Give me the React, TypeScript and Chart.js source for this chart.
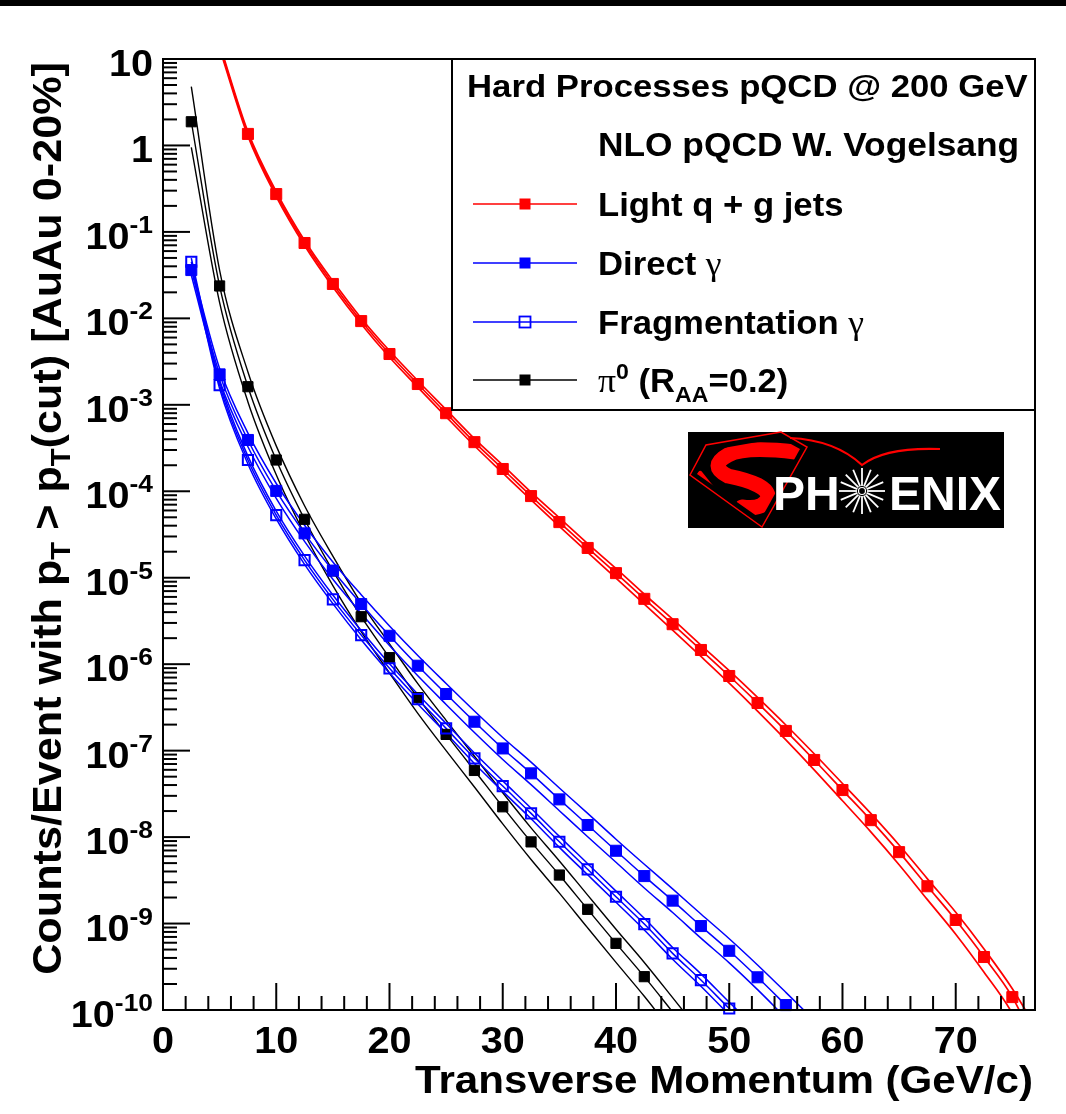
import React, { useEffect, useRef } from 'react';
import { Chart, registerables } from 'chart.js';

Chart.register(...registerables);

// ---- NLO pQCD yields, counts/event above pT cut (AuAu 0-20%) ----

// Light q + g jets
const jetsPt = [5, 7.5, 10, 12.5, 15, 17.5, 20, 22.5, 25, 27.5, 30, 32.5, 35, 37.5, 40, 42.5, 45, 47.5, 50, 52.5, 55, 57.5, 60, 62.5, 65, 67.5, 70, 72.5, 75, 77.5];
const jetsCentral = [14, 1.36, 0.274, 0.0744, 0.025, 0.0093, 0.00387, 0.00174, 8.0e-4, 3.7e-4, 1.81e-4, 8.8e-5, 4.4e-5, 2.21e-5, 1.13e-5, 5.7e-6, 2.9e-6, 1.46e-6, 7.3e-7, 3.56e-7, 1.69e-7, 7.8e-8, 3.5e-8, 1.57e-8, 6.7e-9, 2.7e-9, 1.1e-9, 4.1e-10, 1.41e-10, 3.0e-11];
const jetsUpper = [14.8, 1.44, 0.293, 0.0796, 0.027, 0.01004, 0.00422, 0.0019, 8.8e-4, 4.07e-4, 2.01e-4, 9.77e-5, 4.93e-5, 2.48e-5, 1.28e-5, 6.44e-6, 3.31e-6, 1.66e-6, 8.4e-7, 4.13e-7, 1.98e-7, 9.2e-8, 4.17e-8, 1.88e-8, 8.1e-9, 3.29e-9, 1.35e-9, 5.08e-10, 1.76e-10, 5.0e-11];
const jetsLower = [13.2, 1.28, 0.256, 0.0695, 0.0231, 0.00861, 0.00355, 0.0016, 7.27e-4, 3.36e-4, 1.63e-4, 7.93e-5, 3.93e-5, 1.97e-5, 9.9e-6, 4.96e-6, 2.48e-6, 1.23e-6, 6.03e-7, 2.87e-7, 1.33e-7, 6.0e-8, 2.63e-8, 1.15e-8, 4.79e-9, 1.89e-9, 7.53e-10, 2.73e-10, 9.1e-11, 1.9e-11];

// Direct photons
const directPt = [2.5, 5, 7.5, 10, 12.5, 15, 17.5, 20, 22.5, 25, 27.5, 30, 32.5, 35, 37.5, 40, 42.5, 45, 47.5, 50, 52.5, 55, 57.5];
const directCentral = [0.0362, 2.25e-3, 3.92e-4, 1.01e-4, 3.26e-5, 1.21e-5, 4.96e-6, 2.13e-6, 9.6e-7, 4.52e-7, 2.16e-7, 1.06e-7, 5.46e-8, 2.73e-8, 1.38e-8, 6.95e-9, 3.54e-9, 1.84e-9, 9.35e-10, 4.84e-10, 2.39e-10, 1.14e-10, 5.4e-11];
const directUpper = [0.0416, 2.63e-3, 4.7e-4, 1.23e-4, 4.04e-5, 1.52e-5, 6.35e-6, 2.77e-6, 1.26e-6, 5.97e-7, 2.87e-7, 1.42e-7, 7.37e-8, 3.69e-8, 1.88e-8, 9.45e-9, 4.85e-9, 2.52e-9, 1.29e-9, 6.68e-10, 3.32e-10, 1.6e-10, 7.6e-11];
const directLower = [0.0315, 1.92e-3, 3.27e-4, 8.3e-5, 2.63e-5, 9.6e-6, 3.88e-6, 1.64e-6, 7.33e-7, 3.42e-7, 1.62e-7, 7.9e-8, 4.04e-8, 2.02e-8, 1.01e-8, 5.11e-9, 2.58e-9, 1.34e-9, 6.78e-10, 3.51e-10, 1.72e-10, 8.1e-11, 3.85e-11];

// Fragmentation photons
const fragPt = [2.5, 5, 7.5, 10, 12.5, 15, 17.5, 20, 22.5, 25, 27.5, 30, 32.5, 35, 37.5, 40, 42.5, 45, 47.5, 50, 52.5];
const fragCentral = [0.0452, 1.69e-3, 2.3e-4, 5.31e-5, 1.6e-5, 5.62e-6, 2.17e-6, 8.95e-7, 3.95e-7, 1.81e-7, 8.15e-8, 3.89e-8, 1.88e-8, 8.83e-9, 4.24e-9, 2.04e-9, 9.86e-10, 4.52e-10, 2.22e-10, 1.04e-10, 5.0e-11];
const fragUpper = [0.0497, 1.86e-3, 2.55e-4, 5.9e-5, 1.79e-5, 6.3e-6, 2.45e-6, 1.01e-6, 4.5e-7, 2.06e-7, 9.37e-8, 4.47e-8, 2.16e-8, 1.02e-8, 4.92e-9, 2.37e-9, 1.15e-9, 5.29e-10, 2.62e-10, 1.23e-10, 5.9e-11];
const fragLower = [0.0411, 1.54e-3, 2.07e-4, 4.78e-5, 1.43e-5, 5.02e-6, 1.92e-6, 7.92e-7, 3.46e-7, 1.59e-7, 7.09e-8, 3.38e-8, 1.63e-8, 7.61e-9, 3.66e-9, 1.76e-9, 8.43e-10, 3.86e-10, 1.88e-10, 8.8e-11, 4.24e-11];

// pi0 with R_AA = 0.2
const pi0Pt = [2.5, 5, 7.5, 10, 12.5, 15, 17.5, 20, 22.5, 25, 27.5, 30, 32.5, 35, 37.5, 40, 42.5, 45, 47.5];
const pi0Central = [1.88, 0.0237, 1.62e-3, 2.3e-4, 4.74e-5, 1.2e-5, 3.54e-6, 1.19e-6, 4.1e-7, 1.54e-7, 5.9e-8, 2.24e-8, 8.8e-9, 3.64e-9, 1.46e-9, 5.9e-10, 2.43e-10, 9.5e-11, 3.7e-11];
const pi0Upper = [4.8, 0.036, 2.4e-3, 3.35e-4, 6.8e-5, 1.78e-5, 5.1e-6, 1.72e-6, 5.95e-7, 2.24e-7, 8.6e-8, 3.26e-8, 1.28e-8, 5.3e-9, 2.13e-9, 8.6e-10, 3.55e-10, 1.39e-10, 5.4e-11];
const pi0Lower = [0.95, 0.0152, 1.08e-3, 1.55e-4, 3.2e-5, 8.1e-6, 2.38e-6, 7.9e-7, 2.7e-7, 1.0e-7, 3.8e-8, 1.42e-8, 5.5e-9, 2.25e-9, 8.9e-10, 3.55e-10, 1.44e-10, 5.5e-11, 2.1e-11];

// ---- axes ----
const X_MIN = 0;
const X_MAX = 77;
const Y_MIN = 1e-10;
const Y_MAX = 10;
const xTickLabels = [0, 10, 20, 30, 40, 50, 60, 70];
const yDecadeExponents = [1, 0, -1, -2, -3, -4, -5, -6, -7, -8, -9, -10];

const legendTitle = 'Hard Processes pQCD @ 200 GeV';
const legendSubtitle = 'NLO pQCD W. Vogelsang';
const xTitle = 'Transverse Momentum (GeV/c)';

const SANS = '"Liberation Sans", Arial, Helvetica, sans-serif';
const SERIF = '"Liberation Serif", "DejaVu Serif", serif';

type Run = { t: string; size: number; dy?: number; bold?: boolean; serif?: boolean };

const runFont = (r: Run) => `${r.bold === false ? '' : 'bold '}${r.size}px ${r.serif ? SERIF : SANS}`;

function richWidth(ctx: CanvasRenderingContext2D, runs: Run[], sx: number) {
  let w = 0;
  for (const r of runs) {
    ctx.font = runFont(r);
    w += ctx.measureText(r.t).width * sx;
  }
  return w;
}

// draws a line of mixed-size text (super/subscripts) with a slight horizontal stretch
function drawRich(
  ctx: CanvasRenderingContext2D,
  runs: Run[],
  x: number,
  y: number,
  align: 'left' | 'right' | 'center',
  sx = 1.07
) {
  const w = richWidth(ctx, runs, sx);
  let cx = align === 'right' ? x - w : align === 'center' ? x - w / 2 : x;
  ctx.textAlign = 'left';
  ctx.textBaseline = 'alphabetic';
  for (const r of runs) {
    ctx.font = runFont(r);
    ctx.save();
    ctx.translate(cx, y + (r.dy || 0));
    ctx.scale(sx, 1);
    ctx.fillText(r.t, 0, 0);
    ctx.restore();
    cx += ctx.measureText(r.t).width * sx;
  }
}

const RED = '#ff0000';
const BLUE = '#0000ff';
const BLACK = '#000000';

type Series = {
  pt: number[];
  central: number[];
  upper: number[];
  lower: number[];
  color: string;
  open: boolean;
  radius: number;
  lineWidth: number;
};

const series: Series[] = [
  { pt: jetsPt, central: jetsCentral, upper: jetsUpper, lower: jetsLower, color: RED, open: false, radius: 7.8, lineWidth: 1.7 },
  { pt: directPt, central: directCentral, upper: directUpper, lower: directLower, color: BLUE, open: false, radius: 7.8, lineWidth: 1.5 },
  { pt: fragPt, central: fragCentral, upper: fragUpper, lower: fragLower, color: BLUE, open: true, radius: 7.2, lineWidth: 1.5 },
  { pt: pi0Pt, central: pi0Central, upper: pi0Upper, lower: pi0Lower, color: BLACK, open: false, radius: 7.2, lineWidth: 1.4 },
];

const toPoints = (xs: number[], ys: number[]) => xs.map((x, i) => ({ x, y: ys[i] }));

function buildDatasets() {
  const out: any[] = [];
  for (const s of series) {
    for (const vals of [s.lower, s.central, s.upper]) {
      out.push({
        data: toPoints(s.pt, vals),
        borderColor: s.color,
        borderWidth: s.lineWidth,
        pointRadius: 0,
        fill: false,
        cubicInterpolationMode: 'monotone',
        capBezierPoints: false,
        order: 2,
      });
    }
    out.push({
      data: toPoints(s.pt, s.central),
      showLine: false,
      pointStyle: 'rect',
      pointRadius: (c: any) => {
        const v = c.raw ? c.raw.y : 0;
        return v >= Y_MIN && v <= Y_MAX ? s.radius : 0;
      },
      pointBackgroundColor: s.open ? 'rgba(0,0,0,0)' : s.color,
      pointBorderColor: s.color,
      pointBorderWidth: s.open ? 2 : 1,
      clip: false,
      order: 1,
    });
  }
  return out;
}

function drawLogo(ctx: CanvasRenderingContext2D) {
  ctx.save();
  ctx.fillStyle = '#000';
  ctx.fillRect(688, 432, 316, 96);

  // shield
  const inner: [number, number][] = [[697, 474], [712, 450], [780, 438], [800, 449], [761, 519]];
  const outer: [number, number][] = [[690, 475], [706, 445], [781, 432], [807, 447], [762, 527]];
  ctx.strokeStyle = RED;
  ctx.lineWidth = 1.5;
  ctx.beginPath();
  outer.forEach(([x, y], i) => (i ? ctx.lineTo(x, y) : ctx.moveTo(x, y)));
  ctx.closePath();
  ctx.stroke();

  ctx.beginPath();
  inner.forEach(([x, y], i) => (i ? ctx.lineTo(x, y) : ctx.moveTo(x, y)));
  ctx.closePath();
  ctx.save();
  ctx.clip();
  ctx.strokeStyle = RED;
  ctx.lineWidth = 15;
  ctx.lineCap = 'round';
  ctx.beginPath();
  ctx.moveTo(795, 452);
  ctx.quadraticCurveTo(745, 446, 728, 455);
  ctx.quadraticCurveTo(708, 466, 728, 476);
  ctx.quadraticCurveTo(768, 484, 768, 497);
  ctx.quadraticCurveTo(765, 510, 742, 507);
  ctx.stroke();
  ctx.lineWidth = 6;
  ctx.beginPath();
  ctx.moveTo(700, 474);
  ctx.lineTo(724, 504);
  ctx.stroke();
  ctx.restore();

  // swoosh
  ctx.strokeStyle = RED;
  ctx.lineWidth = 2.2;
  ctx.beginPath();
  ctx.moveTo(790, 438);
  ctx.quadraticCurveTo(835, 440, 862, 465);
  ctx.quadraticCurveTo(885, 447, 940, 449);
  ctx.stroke();

  // lettering
  ctx.fillStyle = '#fff';
  ctx.font = `bold 48px ${SANS}`;
  ctx.textBaseline = 'alphabetic';
  ctx.textAlign = 'left';
  ctx.fillText('PH', 773, 510);
  ctx.fillText('ENIX', 889, 510);

  // starburst in place of the O
  const cx = 862;
  const cy = 491;
  ctx.strokeStyle = '#fff';
  ctx.lineWidth = 1.8;
  for (let i = 0; i < 16; i++) {
    const a = (i * Math.PI) / 8;
    ctx.beginPath();
    ctx.moveTo(cx + 5 * Math.cos(a), cy + 5 * Math.sin(a));
    ctx.lineTo(cx + 23 * Math.cos(a), cy + 23 * Math.sin(a));
    ctx.stroke();
  }
  ctx.lineWidth = 1.2;
  ctx.beginPath();
  ctx.arc(cx, cy, 3.5, 0, Math.PI * 2);
  ctx.stroke();
  ctx.restore();
}

function drawLegend(ctx: CanvasRenderingContext2D) {
  const left = 452;
  const top = 59;
  const right = 1035;
  const bottom = 410;
  ctx.save();
  ctx.fillStyle = '#fff';
  ctx.fillRect(left, top, right - left, bottom - top);
  ctx.strokeStyle = '#000';
  ctx.lineWidth = 2;
  ctx.strokeRect(left, top, right - left, bottom - top);

  ctx.fillStyle = '#000';
  drawRich(ctx, [{ t: legendTitle, size: 32 }], 467, 97, 'left', 1.085);
  drawRich(ctx, [{ t: legendSubtitle, size: 33 }], 598, 156, 'left', 1.07);

  const entries: { runs: Run[]; s: Series; y: number }[] = [
    { runs: [{ t: 'Light q + g jets', size: 33 }], s: series[0], y: 204 },
    { runs: [{ t: 'Direct ', size: 33 }, { t: 'γ', size: 34, bold: false, serif: true }], s: series[1], y: 263 },
    { runs: [{ t: 'Fragmentation ', size: 33 }, { t: 'γ', size: 34, bold: false, serif: true }], s: series[2], y: 322 },
    {
      runs: [
        { t: 'π', size: 34, bold: false, serif: true },
        { t: '0', size: 22, dy: -13 },
        { t: ' (R', size: 33 },
        { t: 'AA', size: 22, dy: 10 },
        { t: '=0.2)', size: 33 },
      ],
      s: series[3],
      y: 380,
    },
  ];
  for (const e of entries) {
    ctx.strokeStyle = e.s.color;
    ctx.lineWidth = 1.5;
    ctx.beginPath();
    ctx.moveTo(473, e.y);
    ctx.lineTo(577, e.y);
    ctx.stroke();
    const half = 5.5;
    if (e.s.open) {
      ctx.fillStyle = '#fff';
      ctx.fillRect(525 - half, e.y - half, half * 2, half * 2);
      ctx.strokeStyle = e.s.color;
      ctx.lineWidth = 1.8;
      ctx.strokeRect(525 - half, e.y - half, half * 2, half * 2);
      ctx.lineWidth = 1.5;
      ctx.beginPath();
      ctx.moveTo(525 - half, e.y);
      ctx.lineTo(525 + half, e.y);
      ctx.stroke();
    } else {
      ctx.fillStyle = e.s.color;
      ctx.fillRect(525 - half, e.y - half, half * 2, half * 2);
    }
    ctx.fillStyle = '#000';
    drawRich(ctx, e.runs, 598, e.y + 12, 'left', 1.05);
  }
  ctx.restore();
}

const decorations = {
  id: 'rootStyleFrame',
  beforeDraw(chart: any) {
    const ctx: CanvasRenderingContext2D = chart.ctx;
    ctx.save();
    ctx.fillStyle = '#fff';
    ctx.fillRect(0, 0, chart.width, chart.height);
    ctx.fillStyle = '#000';
    ctx.fillRect(0, 0, chart.width, 6);
    ctx.restore();
  },
  afterDraw(chart: any) {
    const ctx: CanvasRenderingContext2D = chart.ctx;
    const a = chart.chartArea;
    const xs = chart.scales.x;
    const ys = chart.scales.y;
    ctx.save();

    // frame
    ctx.strokeStyle = '#000';
    ctx.lineWidth = 2;
    ctx.strokeRect(a.left, a.top, a.right - a.left, a.bottom - a.top);

    // y ticks (inside the frame)
    ctx.lineWidth = 2;
    for (const e of yDecadeExponents) {
      const py = ys.getPixelForValue(Math.pow(10, e));
      ctx.beginPath();
      ctx.moveTo(a.left, py);
      ctx.lineTo(a.left + 27, py);
      ctx.stroke();
      if (e < 1) {
        for (let k = 2; k <= 9; k++) {
          const pm = ys.getPixelForValue(k * Math.pow(10, e));
          ctx.beginPath();
          ctx.moveTo(a.left, pm);
          ctx.lineTo(a.left + 14, pm);
          ctx.stroke();
        }
      }
    }
    // x ticks
    for (let v = X_MIN; v <= X_MAX; v += 2) {
      const px = xs.getPixelForValue(v);
      const len = v % 10 === 0 ? 27 : 14;
      ctx.beginPath();
      ctx.moveTo(px, a.bottom);
      ctx.lineTo(px, a.bottom - len);
      ctx.stroke();
    }

    // tick labels
    ctx.fillStyle = '#000';
    for (const e of yDecadeExponents) {
      const py = ys.getPixelForValue(Math.pow(10, e));
      const runs: Run[] =
        e === 1
          ? [{ t: '10', size: 36 }]
          : e === 0
          ? [{ t: '1', size: 36 }]
          : [{ t: '10', size: 36 }, { t: String(e), size: 24, dy: -16 }];
      drawRich(ctx, runs, a.left - 10, py + 17, 'right', 1.1);
    }
    for (const v of xTickLabels) {
      drawRich(ctx, [{ t: String(v), size: 36 }], xs.getPixelForValue(v), 1053, 'center', 1.1);
    }

    // axis titles
    drawRich(ctx, [{ t: xTitle, size: 39 }], 1033, 1093, 'right', 1.08);
    ctx.save();
    ctx.translate(61, 62);
    ctx.rotate(-Math.PI / 2);
    drawRich(
      ctx,
      [
        { t: 'Counts/Event with p', size: 40 },
        { t: 'T', size: 27, dy: 9 },
        { t: ' > p', size: 40 },
        { t: 'T', size: 27, dy: 9 },
        { t: '(cut) [AuAu 0-20%]', size: 40 },
      ],
      0,
      0,
      'right',
      1.08
    );
    ctx.restore();

    drawLegend(ctx);
    drawLogo(ctx);
    ctx.restore();
  },
};

export default function App() {
  const canvasRef = useRef<HTMLCanvasElement | null>(null);

  useEffect(() => {
    if (!canvasRef.current) return;
    const chart = new Chart(canvasRef.current, {
      type: 'line',
      data: { datasets: buildDatasets() },
      options: {
        responsive: false,
        devicePixelRatio: 1,
        animation: false,
        events: [],
        layout: { padding: { left: 163, top: 59, right: 31, bottom: 104 } },
        scales: {
          x: { type: 'linear', min: X_MIN, max: X_MAX, display: false },
          y: { type: 'logarithmic', min: Y_MIN, max: Y_MAX, display: false },
        },
        plugins: { legend: { display: false }, tooltip: { enabled: false } },
      } as any,
      plugins: [decorations],
    });
    return () => chart.destroy();
  }, []);

  return (
    <div style={{ position: 'absolute', left: 0, top: 0, width: 1066, height: 1114, background: '#fff' }}>
      <canvas ref={canvasRef} width={1066} height={1114} style={{ display: 'block', width: 1066, height: 1114 }} />
    </div>
  );
}
